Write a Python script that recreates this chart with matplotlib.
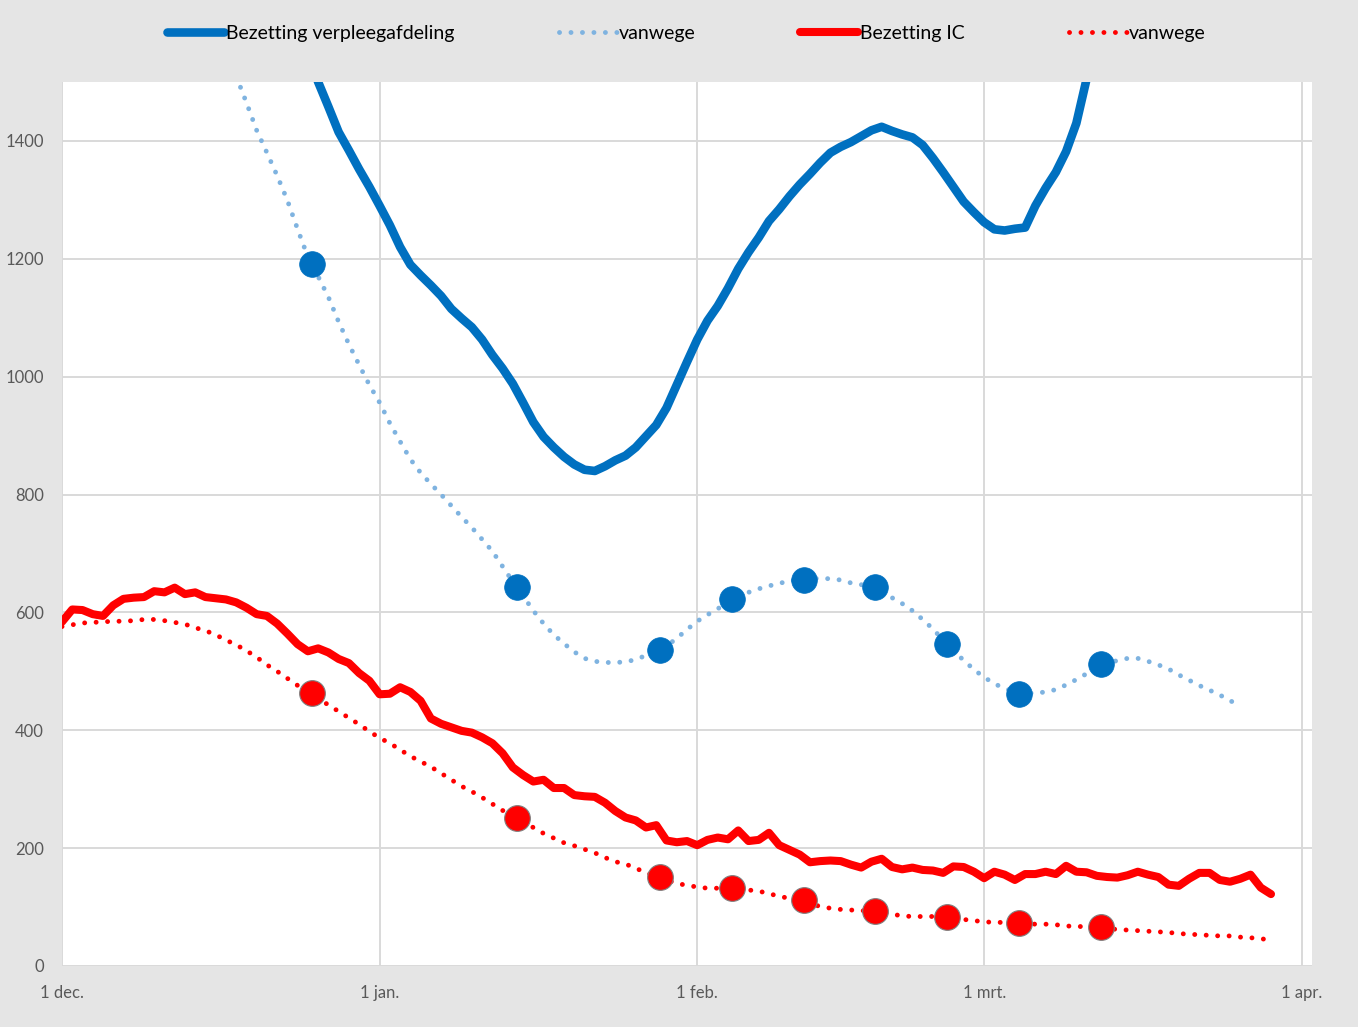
import matplotlib
matplotlib.use("Agg")
import matplotlib.pyplot as plt
import pandas as pd

plt.rcParams["font.family"] = ["Lato", "DejaVu Sans"]

START = "2020-12-01"

# IC occupancy, daily from 1 Dec
ic = [584, 605, 604, 597, 594, 612, 623, 625, 626, 636,
      634, 642, 631, 634, 626, 624, 622, 617, 608, 597,
      594, 581, 564, 546, 534, 539, 532, 521, 514, 497,
      484, 461, 462, 473, 465, 450, 420, 411, 405, 399,
      396, 388, 378, 361, 337, 324, 313, 316, 302, 302,
      290, 288, 287, 277, 263, 252, 247, 235, 239, 213,
      210, 212, 205, 214, 218, 215, 230, 212, 214, 226,
      205, 197, 189, 176, 178, 179, 178, 172, 167, 177,
      182, 168, 164, 167, 163, 162, 158, 169, 168, 160,
      149, 160, 155, 146, 156, 156, 160, 156, 170, 160,
      159, 153, 151, 150, 154, 160, 155, 151, 138, 136,
      148, 158, 158, 146, 143, 148, 155, 133, 122]

# IC trend ("vanwege"), daily from 1 Dec
ic_trend = [576, 579, 582, 583, 584, 585, 585, 586, 588, 588,
            586, 583, 580, 574, 569, 562, 553, 545, 535, 524,
            511, 500, 488, 476, 466, 454, 443, 432, 421, 410,
            398, 387, 378, 367, 356, 347, 338, 327, 316, 305,
            296, 286, 275, 264, 254, 244, 235, 225, 217, 209,
            204, 198, 192, 184, 177, 173, 166, 158, 153, 146,
            140, 137, 134, 132, 132, 132, 131, 129, 127, 123,
            118, 115, 112, 106, 101, 98, 96, 95, 94, 93,
            90, 88, 85, 84, 84, 84, 83, 81, 79, 77,
            75, 74, 74, 73, 72, 71, 71, 70, 68, 67,
            67, 66, 64, 62, 61, 60, 59, 58, 57, 55,
            54, 53, 52, 51, 51, 49, 48, 46, 45]

# ward occupancy, daily from 24 Dec
ward_start = "2020-12-24"
ward = [1600, 1550, 1500, 1458, 1415, 1384, 1352, 1322, 1290, 1257,
        1220, 1190, 1172, 1155, 1137, 1115, 1099, 1084, 1063, 1037,
        1014, 988, 956, 923, 898, 880, 864, 851, 842, 840,
        848, 858, 866, 880, 899, 918, 947, 986, 1025, 1063,
        1095, 1120, 1150, 1183, 1211, 1236, 1264, 1284, 1306, 1326,
        1344, 1363, 1380, 1390, 1398, 1408, 1418, 1424, 1417, 1411,
        1406, 1393, 1371, 1347, 1322, 1297, 1279, 1262, 1250, 1248,
        1251, 1253, 1290, 1320, 1347, 1382, 1430, 1505, 1580]

# ward trend ("vanwege"), daily from 16 Dec
ward_trend_start = "2020-12-16"
ward_trend = [1600, 1555, 1510, 1465, 1418, 1380, 1341, 1299, 1250, 1203,
              1170, 1135, 1093, 1055, 1020, 986, 956, 921, 890, 860,
              837, 818, 800, 781, 762, 744, 724, 704, 678, 652,
              628, 603, 581, 562, 547, 533, 522, 517, 515, 515,
              516, 520, 527, 533, 543, 556, 571, 585, 596, 606,
              618, 627, 634, 640, 645, 649, 654, 655, 657, 658,
              657, 655, 650, 647, 645, 635, 625, 615, 603, 588,
              572, 553, 534, 519, 503, 490, 479, 471, 465, 463,
              463, 465, 469, 477, 486, 496, 507, 515, 518, 522,
              522, 517, 511, 504, 494, 485, 476, 468, 460, 450, 443]

point_dates = ["2020-12-25 09:00", "2021-01-14 09:00", "2021-01-28 09:00",
               "2021-02-04 09:00", "2021-02-11 09:00", "2021-02-18 09:00",
               "2021-02-25 09:00", "2021-03-04 09:00", "2021-03-12 09:00"]
ward_points = [1191, 643, 536, 623, 655, 643, 546, 462, 512]
ic_points = [463, 251, 151, 132, 112, 93, 83, 73, 66]

tick_dates = ["2020-12-01", "2021-01-01", "2021-02-01", "2021-03-01", "2021-04-01"]
tick_labels = ["1 dec.", "1 jan.", "1 feb.", "1 mrt.", "1 apr."]

BLUE = "#0070C0"
LIGHT_BLUE = "#7FB3E0"
RED = "#FF0000"
GRID = "#D9D9D9"
TEXT = "#595959"

ic_dates = pd.date_range(START, periods=len(ic))
ward_dates = pd.date_range(ward_start, periods=len(ward))
ward_trend_dates = pd.date_range(ward_trend_start, periods=len(ward_trend))
pdates = pd.to_datetime(point_dates)

fig = plt.figure(figsize=(13.58, 10.27), dpi=100, facecolor="#E5E5E5")
ax = fig.add_axes([62 / 1358, 1 - 966 / 1027, 1250 / 1358, 884 / 1027])
ax.set_facecolor("white")

dotted = (0, (0.01, 2.35))

ax.plot(ward_dates, ward, color=BLUE, lw=6.2, solid_capstyle="round",
        solid_joinstyle="round", label="Bezetting verpleegafdeling", zorder=4)
ax.plot(ward_trend_dates, ward_trend, color=LIGHT_BLUE, lw=3.5, linestyle=dotted,
        dash_capstyle="round", label="vanwege", zorder=3)
ax.plot(ic_dates, ic, color=RED, lw=5.8, solid_capstyle="round",
        solid_joinstyle="round", label="Bezetting IC", zorder=4)
ax.plot(ic_dates, ic_trend, color=RED, lw=3.5, linestyle=dotted,
        dash_capstyle="round", label="vanwege", zorder=3)

ax.plot(pdates, ward_points, "o", color=BLUE, ms=18.5, mec=BLUE, mew=0.5, zorder=5)
ax.plot(pdates, ic_points, "o", color=RED, ms=18.5, mec="#7F7F7F", mew=0.8, zorder=5)

ax.set_xlim(pd.Timestamp(START), pd.Timestamp("2021-04-02"))
ax.set_ylim(0, 1500)
ax.set_yticks(range(0, 1401, 200))
ax.set_xticks(pd.to_datetime(tick_dates))
ax.set_xticklabels(tick_labels)
ax.grid(True, color=GRID, lw=1.4)
ax.set_axisbelow(True)
for s in ax.spines.values():
    s.set_visible(False)
ax.tick_params(length=0, labelsize=12, labelcolor=TEXT)
ax.tick_params(axis="x", pad=14)
ax.tick_params(axis="y", pad=13)

fig.legend(loc="center", bbox_to_anchor=(686 / 1358, 1 - 33 / 1027), ncol=4,
           frameon=False, fontsize=14, handlelength=2.95, handletextpad=0.1,
           columnspacing=5.4)

fig.savefig("out.png", dpi=100, facecolor=fig.get_facecolor())
